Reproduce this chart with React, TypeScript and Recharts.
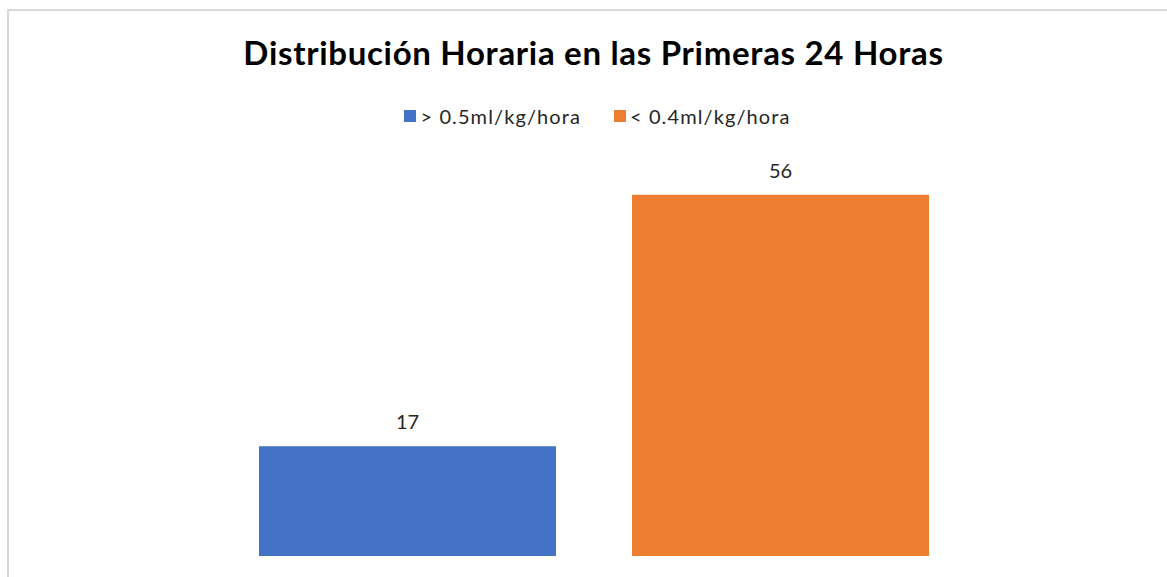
import { BarChart, Bar, XAxis, YAxis, LabelList } from 'recharts'

const categories = ['Primeras 24 Horas']
const seriesNames = ['> 0.5ml/kg/hora', '< 0.4ml/kg/hora']
const seriesValues = [17, 56]
const seriesColors = ['#4472C4', '#ED7D31']

const data = categories.map((name) => ({
  name,
  s0: seriesValues[0],
  s1: seriesValues[1],
}))

const font = 'Lato, "Open Sans", sans-serif'

function LegendRow() {
  return (
    <div style={{ display: 'flex', justifyContent: 'center', gap: 33, fontFamily: font, fontSize: 20, letterSpacing: 1.1, color: '#262626' }}>
      {seriesNames.map((n, i) => (
        <div key={n} style={{ display: 'flex', alignItems: 'center' }}>
          <span style={{ display: 'inline-block', width: 12, height: 12, background: seriesColors[i], marginRight: 4 }} />
          <span>{n}</span>
        </div>
      ))}
    </div>
  )
}

export default function App() {
  return (
    <div style={{ position: 'absolute', left: 0, top: 0, width: 1167, height: 577, background: '#fff', overflow: 'hidden' }}>
      <div style={{ position: 'absolute', left: 7, top: 9, width: 1200, height: 600, border: '2px solid #d9d9d9', boxSizing: 'border-box' }} />
      <div style={{ position: 'absolute', left: 0, top: 32, width: 1187, textAlign: 'center', fontFamily: font, fontWeight: 700, fontSize: 33, letterSpacing: 0.7, color: '#000' }}>
        Distribución Horaria en las Primeras 24 Horas
      </div>
      <div style={{ position: 'absolute', left: 0, top: 104, width: 1195 }}>
        <LegendRow />
      </div>
      <div style={{ position: 'absolute', top: 0, left: 0 }}>
        <BarChart width={1167} height={577} data={data} margin={{ top: 169, right: 12, bottom: 21, left: 32 }} barSize={297} barGap={76}>
          <XAxis dataKey="name" hide />
          <YAxis hide domain={[0, 60]} />
          {seriesNames.map((n, i) => (
            <Bar key={n} dataKey={'s' + i} name={n} fill={seriesColors[i]} isAnimationActive={false}>
              <LabelList dataKey={'s' + i} position="top" offset={17} style={{ fontFamily: font, fontSize: 20, fill: '#262626' }} />
            </Bar>
          ))}
        </BarChart>
      </div>
    </div>
  )
}
